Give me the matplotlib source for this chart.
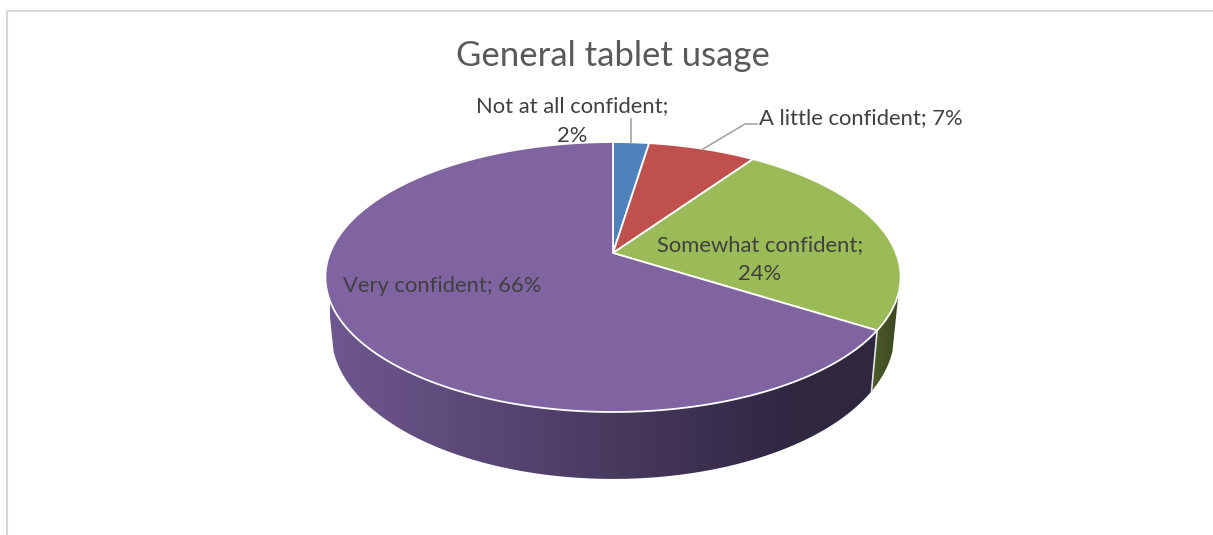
import numpy as np
import matplotlib
matplotlib.use('Agg')
import matplotlib.pyplot as plt
from matplotlib.colors import LinearSegmentedColormap
from matplotlib.patches import Polygon

categories = ['Not at all confident', 'A little confident', 'Somewhat confident', 'Very confident']
values = [2.4, 7.2, 24.4, 66.0]
shown = ['2%', '7%', '24%', '66%']
colors = ['#4f81bd', '#c0504d', '#9bbb59', '#8064a2']
wall_light = ['#3f5f8a', '#8a3a38', '#55662c', '#6f578f']
wall_dark = ['#2a3f5c', '#5c2624', '#3a4622', '#2f2640']

plt.rcParams['font.family'] = ['Lato', 'DejaVu Sans']

cx, cy = 613, 253
k = 0.178


def top_pt(t):
    u, v = np.sin(t), np.cos(t)
    w = 1 + k * v
    return cx + 283 * u / w, cy - 130.7 * v / w


def low_pt(t):
    u, v = np.sin(t), np.cos(t)
    w = 1 + k * v
    return cx + 277 * u / w, 308 - 140.5 * v / w


fig = plt.figure(figsize=(12.13, 5.35), dpi=100)
ax = fig.add_axes([0, 0, 1, 1])

# frame, only top and left show
ax.plot([1213, 7, 7], [11, 11, 535], color='#d9d9d9', lw=1.5, zorder=1)

fr = np.cumsum([0] + values) / sum(values)
angles = fr * 2 * np.pi

# side wall: gradient image clipped to each visible slice
grad = np.linspace(0, 1, 256).reshape(1, -1)
for i in range(4):
    a0 = max(angles[i], np.radians(107))
    a1 = min(angles[i + 1], np.radians(253))
    if a1 <= a0:
        continue
    ts = np.linspace(a0, a1, 300)
    outline = [top_pt(t) for t in ts] + [low_pt(t) for t in ts[::-1]]
    cmap = LinearSegmentedColormap.from_list('w', [wall_light[i], wall_dark[i]])
    im = ax.imshow(grad, cmap=cmap, extent=(330, 800, 500, 250), aspect='auto',
                   zorder=2, interpolation='bilinear')
    if i == 2:
        im.set_extent((860, 900, 500, 250))
    elif i == 3:
        # colour keeps going flat outside the gradient range
        ax.imshow(grad[:, -1:], cmap=cmap, vmin=0, vmax=1, extent=(800, 880, 500, 250),
                  aspect='auto', zorder=2).set_clip_path(Polygon(outline, transform=ax.transData))
    im.set_clip_path(Polygon(outline, transform=ax.transData))

ax.set_xlim(0, 1213)
ax.set_ylim(535, 0)
ax.axis('off')

# seam between green and purple wall
t = angles[3]
ax.plot(*zip(top_pt(t), low_pt(t)), color='#e4e4e4', lw=1.2, zorder=3)

# top face
for i in range(4):
    ts = np.linspace(angles[i], angles[i + 1], 200)
    pts = [(cx, cy)] + [top_pt(t) for t in ts]
    ax.add_patch(Polygon(pts, fc=colors[i], ec='white', lw=1.3, zorder=4, joinstyle='round'))

# leader lines
ax.plot([631, 631], [119, 143], color='#a6a6a6', lw=1.2, zorder=5)
ax.plot([703, 745, 757], [149, 124, 124], color='#a6a6a6', lw=1.2, zorder=5)

ax.text(613, 56, 'General tablet usage', fontsize=25, color='#595959',
        ha='center', va='center', zorder=6)

lab = dict(fontsize=15.8, color='#404040', va='center', zorder=6)
ax.text(572, 106, categories[0] + ';', ha='center', **lab)
ax.text(572, 136, shown[0], ha='center', **lab)
ax.text(759, 118, categories[1] + '; ' + shown[1], ha='left', **lab)
ax.text(760, 245, categories[2] + ';', ha='center', **lab)
ax.text(760, 274, shown[2], ha='center', **lab)
ax.text(343, 286, categories[3] + '; ' + shown[3], ha='left', **lab)

fig.savefig('out.png', dpi=100)
